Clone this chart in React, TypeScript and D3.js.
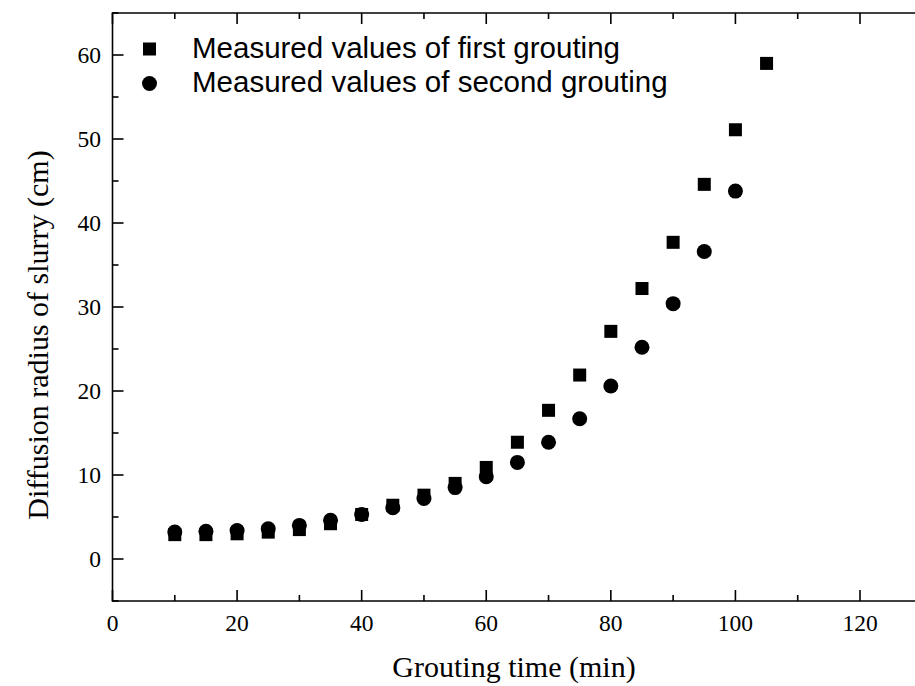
import React from "react";
import * as d3 from "d3";

const times = [10, 15, 20, 25, 30, 35, 40, 45, 50, 55, 60, 65, 70, 75, 80, 85, 90, 95, 100, 105];
const firstGrouting = [2.9, 2.9, 3.0, 3.2, 3.5, 4.2, 5.3, 6.4, 7.6, 9.0, 10.9, 13.9, 17.7, 21.9, 27.1, 32.2, 37.7, 44.6, 51.1, 59.0];
const secondTimes = [10, 15, 20, 25, 30, 35, 40, 45, 50, 55, 60, 65, 70, 75, 80, 85, 90, 95, 100];
const secondGrouting = [3.2, 3.3, 3.4, 3.6, 4.0, 4.6, 5.3, 6.1, 7.2, 8.5, 9.8, 11.5, 13.9, 16.7, 20.6, 25.2, 30.4, 36.6, 43.8];
const xTicks = [0, 20, 40, 60, 80, 100, 120];
const xMinor = [10, 30, 50, 70, 90, 110, 130];
const yTicks = [0, 10, 20, 30, 40, 50, 60];
const yMinor = [-5, 5, 15, 25, 35, 45, 55, 65];
const legendLabels = ["Measured values of first grouting", "Measured values of second grouting"];
const xTitle = "Grouting time (min)";
const yTitle = "Diffusion radius of slurry (cm)";

export default function App() {
  const W = 915, H = 686;
  const x = d3.scaleLinear().domain([0, 130]).range([112.5, 922.3]);
  const y = d3.scaleLinear().domain([-5, 65]).range([601, 13]);
  const x0 = x(0), x1 = x(130), yb = y(-5), yt = y(65);
  const serif = "'Liberation Serif', 'Times New Roman', serif";
  const sans = "'Liberation Sans', Arial, sans-serif";
  const majorLen = 11, minorLen = 6;
  const sq = 13, cr = 7.5;
  return (
    <svg width={W} height={H} style={{ position: "absolute", left: 0, top: 0, background: "#fff" }}>
      <rect x={0} y={0} width={W} height={H} fill="#fff" />
      <g stroke="#000" strokeWidth={1.6} fill="none">
        <line x1={x0} y1={yb} x2={x1} y2={yb} />
        <line x1={x0} y1={yt} x2={x1} y2={yt} />
        <line x1={x0} y1={yb + 0.8} x2={x0} y2={yt - 0.8} />
        <line x1={x1} y1={yb} x2={x1} y2={yt} />
      </g>
      <g stroke="#000" strokeWidth={1.6}>
        {xTicks.map((t) => (
          <g key={"xm" + t}>
            <line x1={x(t)} x2={x(t)} y1={yb} y2={yb - majorLen} />
            <line x1={x(t)} x2={x(t)} y1={yt} y2={yt + majorLen} />
          </g>
        ))}
        {xMinor.map((t) => (
          <g key={"xn" + t}>
            <line x1={x(t)} x2={x(t)} y1={yb} y2={yb - minorLen} />
            <line x1={x(t)} x2={x(t)} y1={yt} y2={yt + minorLen} />
          </g>
        ))}
        {yTicks.map((t) => (
          <line key={"ym" + t} x1={x0} x2={x0 + majorLen} y1={y(t)} y2={y(t)} />
        ))}
        {yMinor.map((t) => (
          <line key={"yn" + t} x1={x0} x2={x0 + minorLen} y1={y(t)} y2={y(t)} />
        ))}
      </g>
      <g fontFamily={serif} fontSize={23.5} fill="#000">
        {xTicks.map((t) => (
          <text key={"xl" + t} x={x(t)} y={631} textAnchor="middle">{t}</text>
        ))}
        {yTicks.map((t) => (
          <text key={"yl" + t} x={101} y={y(t) + 8} textAnchor="end">{t}</text>
        ))}
      </g>
      <text x={514} y={677} textAnchor="middle" fontFamily={serif} fontSize={30} fill="#000">{xTitle}</text>
      <text transform={`translate(48,335) rotate(-90)`} textAnchor="middle" fontFamily={serif} fontSize={30} fill="#000">{yTitle}</text>
      <g fill="#000">
        {times.map((t, i) => (
          <rect key={"s" + t} x={x(t) - sq / 2} y={y(firstGrouting[i]) - sq / 2} width={sq} height={sq} />
        ))}
        {secondTimes.map((t, i) => (
          <circle key={"c" + t} cx={x(t)} cy={y(secondGrouting[i])} r={cr} />
        ))}
      </g>
      <g>
        <rect x={149.5 - sq / 2} y={49 - sq / 2} width={sq} height={sq} fill="#000" />
        <circle cx={149.5} cy={83.5} r={cr} fill="#000" />
        <text x={192} y={58} fontFamily={sans} fontSize={29.5} fill="#000">{legendLabels[0]}</text>
        <text x={192} y={92} fontFamily={sans} fontSize={29.5} fill="#000">{legendLabels[1]}</text>
      </g>
    </svg>
  );
}
